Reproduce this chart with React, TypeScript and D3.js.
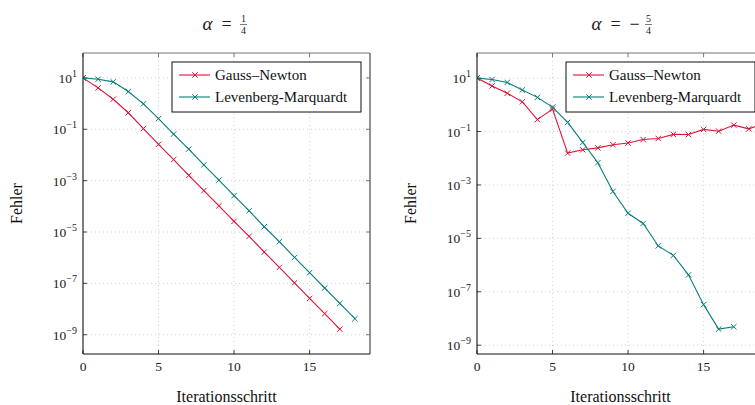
import React from 'react';
import * as d3 from 'd3';

// Iteration steps
const stepsLeftGN = d3.range(0, 18);
const stepsLeftLM = d3.range(0, 19);
const stepsRightGN = d3.range(0, 20);
const stepsRightLM = d3.range(0, 18);

// alpha = 1/4
const leftGN = [10, 4.1, 1.48, 0.44, 0.107, 0.026, 6.6e-3, 1.6e-3, 4.1e-4, 1.05e-4, 2.6e-5, 6.8e-6, 1.66e-6, 4.2e-7, 1.05e-7, 2.6e-8, 6.6e-9, 1.65e-9];
const leftLM = [10, 8.9, 7.0, 2.95, 0.98, 0.26, 0.065, 0.017, 4.1e-3, 1.05e-3, 2.6e-4, 6.7e-5, 1.6e-5, 4.2e-6, 1.02e-6, 2.6e-7, 6.6e-8, 1.65e-8, 4.2e-9];

// alpha = -5/4
const rightGN = [10, 5.1, 2.7, 1.29, 0.28, 0.69, 0.0155, 0.0207, 0.0245, 0.032, 0.037, 0.05, 0.055, 0.078, 0.077, 0.12, 0.103, 0.174, 0.126, 0.2];
const rightLM = [10, 8.9, 6.9, 3.6, 1.9, 0.82, 0.22, 0.039, 6.8e-3, 5.7e-4, 8.7e-5, 3.6e-5, 5.2e-6, 2.3e-6, 4.3e-7, 3.3e-8, 4.0e-9, 4.9e-9];

const xTicks = [0, 5, 10, 15];
const yTickExps = [1, -1, -3, -5, -7, -9];
const seriesNames = ['Gauss–Newton', 'Levenberg-Marquardt'];
const colors = ['#dc143c', '#0a7c7c'];

const FONT = '"Liberation Serif", "DejaVu Serif", serif';

const fmtExp = (e: number) => (e < 0 ? '\u2212' + Math.abs(e) : String(e));

interface PanelProps {
  left: number;
  right: number;
  top: number;
  bottom: number;
  yDomain: [number, number];
  gn: number[];
  lm: number[];
  gnSteps: number[];
  lmSteps: number[];
  num: string;
  neg: boolean;
}

const Panel: React.FC<PanelProps> = ({ left, right, top, bottom, yDomain, gn, lm, gnSteps, lmSteps, num, neg }) => {
  const x = d3.scaleLinear().domain([0, 19]).range([left, right]);
  const y = d3.scaleLog().domain(yDomain).range([bottom, top]);
  const line = d3.line<[number, number]>().x(d => x(d[0])).y(d => y(d[1]));

  const series = [
    gnSteps.map((s, i) => [s, gn[i]] as [number, number]),
    lmSteps.map((s, i) => [s, lm[i]] as [number, number]),
  ];
  const cx = (left + right) / 2;
  const cy = (top + bottom) / 2;
  const cross = (r: number) => `M${-r},${-r}L${r},${r}M${-r},${r}L${r},${-r}`;

  const legX = right - 198;
  const legY = top + 9;

  // title layout
  const tStart = cx - (neg ? 29 : 24);
  const fracX = tStart + (neg ? 57 : 41);

  return (
    <g>
      <defs>
        <clipPath id={`clip${left}`}>
          <rect x={left} y={top} width={right - left} height={bottom - top} />
        </clipPath>
      </defs>
      {/* grid */}
      {xTicks.filter(t => t > 0).map(t => (
        <line key={'gx' + t} x1={x(t)} x2={x(t)} y1={top} y2={bottom} stroke="#c8c8c8" strokeWidth={0.8} strokeDasharray="1,3" />
      ))}
      {yTickExps.map(e => (
        <line key={'gy' + e} x1={left} x2={right} y1={y(Math.pow(10, e))} y2={y(Math.pow(10, e))} stroke="#c8c8c8" strokeWidth={0.8} strokeDasharray="1,3" />
      ))}
      {/* ticks */}
      {xTicks.map(t => (
        <g key={'tx' + t}>
          <line x1={x(t)} x2={x(t)} y1={bottom} y2={bottom - 4} stroke="#444" />
          <line x1={x(t)} x2={x(t)} y1={top} y2={top + 4} stroke="#777" />
          <text x={x(t)} y={bottom + 17} textAnchor="middle" fontSize={13.5} style={{ fontFamily: FONT }} fill="#222">{t}</text>
        </g>
      ))}
      {yTickExps.map(e => {
        const yy = y(Math.pow(10, e));
        return (
          <g key={'ty' + e}>
            <line x1={left} x2={left + 4} y1={yy} y2={yy} stroke="#444" />
            <line x1={right} x2={right - 4} y1={yy} y2={yy} stroke="#777" />
            <text x={left - 6} y={yy + 5} textAnchor="end" fontSize={13.5} style={{ fontFamily: FONT }} fill="#222">
              10<tspan dy={-6} fontSize={10}>{fmtExp(e)}</tspan>
            </text>
          </g>
        );
      })}
      {/* data */}
      <g clipPath={`url(#clip${left})`}>
        {series.map((pts, k) => (
          <g key={'s' + k}>
            <path d={line(pts) || ''} fill="none" stroke={colors[k]} strokeWidth={1.1} />
            {pts.map((p, i) => (
              <path key={i} d={cross(2.7)} transform={`translate(${x(p[0])},${y(p[1])})`} stroke={colors[k]} strokeWidth={1} fill="none" />
            ))}
          </g>
        ))}
      </g>
      {/* axis frame */}
      <line x1={left} x2={right} y1={top} y2={top} stroke="#777" strokeWidth={1.2} />
      <line x1={right} x2={right} y1={top} y2={bottom} stroke="#777" strokeWidth={1.6} />
      <line x1={left} x2={left} y1={top} y2={bottom} stroke="#111" strokeWidth={1.1} />
      <line x1={left} x2={right} y1={bottom} y2={bottom} stroke="#111" strokeWidth={1.1} />
      {/* legend */}
      <rect x={legX} y={legY} width={189} height={50} fill="white" stroke="#111" strokeWidth={1} />
      {seriesNames.map((n, k) => {
        const ly = legY + 13 + k * 22;
        return (
          <g key={'l' + k}>
            <line x1={legX + 7} x2={legX + 38} y1={ly} y2={ly} stroke={colors[k]} strokeWidth={1.1} />
            <path d={cross(2.7)} transform={`translate(${legX + 23},${ly})`} stroke={colors[k]} fill="none" />
            <text x={legX + 43} y={ly + 5} fontSize={15} style={{ fontFamily: FONT }} fill="#111">{n}</text>
          </g>
        );
      })}
      {/* axis labels */}
      <text x={cx} y={402} textAnchor="middle" fontSize={16} style={{ fontFamily: FONT }} fill="#111">Iterationsschritt</text>
      <text transform={`translate(${left - 61},${cy}) rotate(-90)`} textAnchor="middle" fontSize={16} style={{ fontFamily: FONT }} fill="#111">Fehler</text>
      {/* title */}
      <g style={{ fontFamily: FONT }} fill="#222">
        <text x={tStart} y={30} fontSize={19} fontStyle="italic">α</text>
        <text x={tStart + 19} y={30} fontSize={18}>=</text>
        {neg && <text x={tStart + 38} y={30} fontSize={18}>{'\u2212'}</text>}
        <text x={fracX} y={22} fontSize={10} textAnchor="middle">{num}</text>
        <line x1={fracX - 3.5} x2={fracX + 3.5} y1={24.5} y2={24.5} stroke="#222" strokeWidth={0.6} />
        <text x={fracX} y={34} fontSize={10} textAnchor="middle">4</text>
      </g>
    </g>
  );
};

export default function App() {
  return (
    <svg width={755} height={405} style={{ position: 'absolute', left: 0, top: 0, background: 'white', fontFamily: FONT }}>
      <rect width={755} height={405} fill="white" />
      <Panel left={83} right={370} top={53} bottom={354} yDomain={[Math.pow(10, -9.75), Math.pow(10, 1.97)]}
        gn={leftGN} lm={leftLM} gnSteps={stepsLeftGN} lmSteps={stepsLeftLM} num="1" neg={false} />
      <Panel left={477} right={764} top={53} bottom={354} yDomain={[Math.pow(10, -9.33), Math.pow(10, 1.94)]}
        gn={rightGN} lm={rightLM} gnSteps={stepsRightGN} lmSteps={stepsRightLM} num="5" neg={true} />
    </svg>
  );
}
